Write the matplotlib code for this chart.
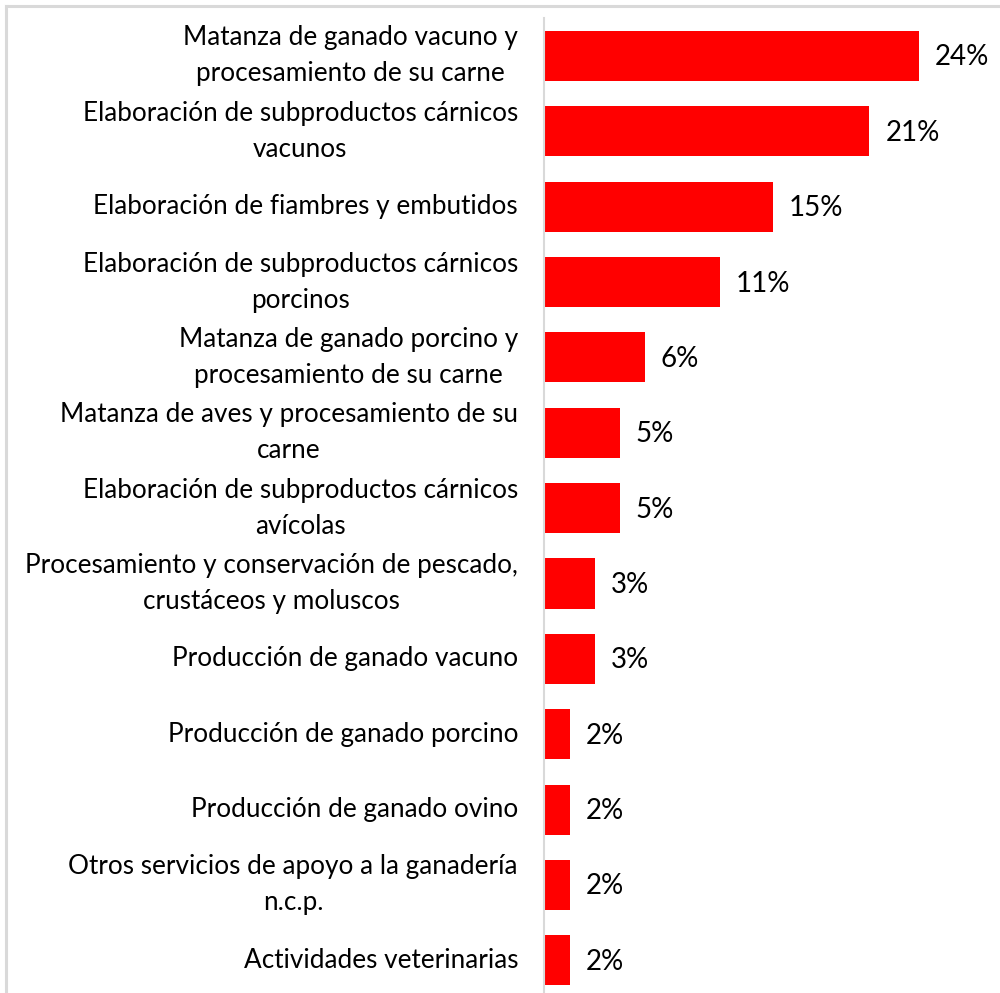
import matplotlib.pyplot as plt
from matplotlib.lines import Line2D
from matplotlib.transforms import blended_transform_factory

# categories, top to bottom
categories = [
    "Matanza de ganado vacuno y\nprocesamiento de su carne",
    "Elaboración de subproductos cárnicos\nvacunos",
    "Elaboración de fiambres y embutidos",
    "Elaboración de subproductos cárnicos\nporcinos",
    "Matanza de ganado porcino y\nprocesamiento de su carne",
    "Matanza de aves y procesamiento de su\ncarne",
    "Elaboración de subproductos cárnicos\navícolas",
    "Procesamiento y conservación de pescado,\ncrustáceos y moluscos",
    "Producción de ganado vacuno",
    "Producción de ganado porcino",
    "Producción de ganado ovino",
    "Otros servicios de apoyo a la ganadería\nn.c.p.",
    "Actividades veterinarias",
]
# share in %
values = [24.0, 20.8, 14.6, 11.2, 6.4, 4.8, 4.8, 3.2, 3.2, 1.6, 1.6, 1.6, 1.6]

W, H = 1000, 993
fig = plt.figure(figsize=(W / 100, H / 100), dpi=100, facecolor='white')

# chart area frame (light gray, only top and left visible)
fig.add_artist(Line2D([5.5 / W, 1], [1 - 6 / H, 1 - 6 / H], color='#d9d9d9', lw=2.2))
fig.add_artist(Line2D([5.5 / W, 5.5 / W], [0, 1 - 6 / H], color='#d9d9d9', lw=2.2))

left, right = 544, 1000
top, bottom = 18.3, 998
ax = fig.add_axes([left / W, 1 - bottom / H, (right - left) / W, (bottom - top) / H])

n = len(categories)
ypos = list(range(n))
ax.barh(ypos, values, height=0.664, color='#ff0000', edgecolor='none', zorder=2)
ax.set_ylim(n - 0.5, -0.5)
px_per_unit = 375 / 24.0
ax.set_xlim(-1.0 / px_per_unit, (right - left) / px_per_unit)

for y, v in zip(ypos, values):
    ax.text(v + 16 / px_per_unit, y + 0.02, f"{v:.0f}%", va='center', ha='left',
            fontsize=20, family='Lato', color='black')

# category labels, right edge at x=518 px, centred lines
trans = blended_transform_factory(fig.transFigure, ax.transData)
for y, lab in zip(ypos, categories):
    ax.text(518 / W, y, lab, transform=trans, ha='right', va='center',
            multialignment='center', fontsize=18.8, family='Lato',
            linespacing=1.55, color='black')

ax.set_yticks([])
ax.set_xticks([])
for s in ['top', 'right', 'bottom']:
    ax.spines[s].set_visible(False)
ax.spines['left'].set_color('#d9d9d9')
ax.spines['left'].set_linewidth(1.5)
ax.spines['left'].set_position(('data', -1.0 / px_per_unit))

fig.savefig('out.png', dpi=100, facecolor='white')
